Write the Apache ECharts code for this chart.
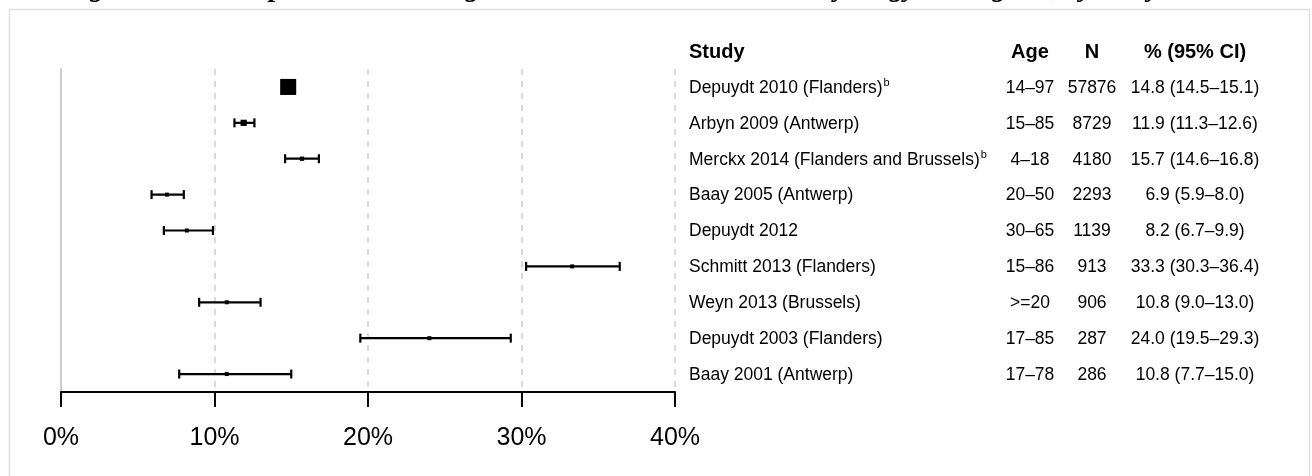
<!DOCTYPE html>
<html>
<head>
<meta charset="utf-8">
<script src="https://cdn.jsdelivr.net/npm/echarts@6/dist/echarts.min.js"></script>
<style>
html,body{margin:0;padding:0;background:#fff;}
#chart{width:1312px;height:476px;}
</style>
</head>
<body>
<div id="chart"></div>
<script>
// ---- data ----
const titleText = 'Figure 2. hrHPV prevalence among women with normal cervical cytology in Belgium, by study';
const studies = ['Depuydt 2010 (Flanders)', 'Arbyn 2009 (Antwerp)', 'Merckx 2014 (Flanders and Brussels)', 'Baay 2005 (Antwerp)', 'Depuydt 2012', 'Schmitt 2013 (Flanders)', 'Weyn 2013 (Brussels)', 'Depuydt 2003 (Flanders)', 'Baay 2001 (Antwerp)'];
const superscripts = ['b', '', 'b', '', '', '', '', '', ''];
const ages = ['14\u201397', '15\u201385', '4\u201318', '20\u201350', '30\u201365', '15\u201386', '>=20', '17\u201385', '17\u201378'];
const ns = [57876, 8729, 4180, 2293, 1139, 913, 906, 287, 286];
const estimates = [14.8, 11.9, 15.7, 6.9, 8.2, 33.3, 10.8, 24.0, 10.8];
const lowers = [14.5, 11.3, 14.6, 5.9, 6.7, 30.3, 9.0, 19.5, 7.7];
const uppers = [15.1, 12.6, 16.8, 8.0, 9.9, 36.4, 13.0, 29.3, 15.0];
const headers = ['Study', 'Age', 'N', '% (95% CI)'];
const xTicks = [0, 10, 20, 30, 40];

// ---- chart ----
const chart = echarts.init(document.getElementById('chart'), null, {renderer: 'canvas'});
const fmt = v => v.toFixed(1);

const barData = studies.map((s, i) => [i, lowers[i], uppers[i], estimates[i], ns[i]]);
const tableData = studies.map((s, i) => [i, 0]);

const COL_STUDY = 689, COL_AGE = 1030, COL_N = 1092, COL_CI = 1195;
const TXT = '#000';
const FONT = 'Liberation Sans, Arial, Helvetica, sans-serif';
const ROWFS = 17.5;

const option = {
  animation: false,
  backgroundColor: '#fff',
  grid: {left: 61, right: 637, top: 69, bottom: 84, containLabel: false},
  xAxis: {
    type: 'value', min: xTicks[0], max: xTicks[xTicks.length - 1], interval: 10,
    axisLine: {show: true, lineStyle: {color: '#000', width: 2}},
    axisTick: {show: true, length: 15, lineStyle: {color: '#000', width: 2}},
    axisLabel: {formatter: '{value}%', fontSize: 25, color: '#000', margin: 34, fontFamily: FONT},
    splitLine: {show: true, lineStyle: {color: '#d9d9d9', width: 2, type: [6, 6]}}
  },
  yAxis: {
    type: 'category', data: studies, inverse: true,
    axisLine: {show: true, lineStyle: {color: '#cccccc', width: 2}},
    axisTick: {show: false}, axisLabel: {show: false}, splitLine: {show: false}
  },
  graphic: [
    {type: 'rect', shape: {x: 9.5, y: 9.5, width: 1300, height: 480}, style: {fill: 'none', stroke: '#e0e0e0', lineWidth: 1.5}, z: -10},
    {type: 'text', x: 64, y: 3, style: {text: titleText, font: 'italic bold 28px "Liberation Serif", serif', fill: '#000', verticalAlign: 'bottom'}}
  ],
  series: [
    {
      type: 'custom', name: 'ci', data: barData, clip: false,
      encode: {x: [1, 2, 3], y: 0},
      renderItem: function (params, api) {
        const i = api.value(0);
        const pl = api.coord([api.value(1), i]);
        const ph = api.coord([api.value(2), i]);
        const pe = api.coord([api.value(3), i]);
        const n = api.value(4);
        const sz = Math.max(4, Math.sqrt(n) / 15);
        const ls = {stroke: '#000', lineWidth: 2.2};
        return {
          type: 'group',
          children: [
            {type: 'line', shape: {x1: pl[0], y1: pl[1], x2: ph[0], y2: ph[1]}, style: ls},
            {type: 'line', shape: {x1: pl[0], y1: pl[1] - 4.5, x2: pl[0], y2: pl[1] + 4.5}, style: ls},
            {type: 'line', shape: {x1: ph[0], y1: ph[1] - 4.5, x2: ph[0], y2: ph[1] + 4.5}, style: ls},
            {type: 'rect', shape: {x: pe[0] - sz / 2, y: pe[1] - sz / 2, width: sz, height: sz}, style: {fill: '#000'}}
          ]
        };
      },
      z: 5
    },
    {
      type: 'custom', name: 'table', data: tableData, clip: false, silent: true,
      encode: {x: 1, y: 0},
      renderItem: function (params, api) {
        const i = api.value(0);
        const y = api.coord([0, i])[1];
        const band = api.size([0, 1])[1];
        const children = [];
        const rich = {
          n: {fontSize: ROWFS, fontFamily: FONT, color: TXT},
          s: {fontSize: 11, fontFamily: FONT, color: TXT, verticalAlign: 'top', padding: [0, 0, 9, 1]}
        };
        const label = superscripts[i] ? '{n|' + studies[i] + '}{s|' + superscripts[i] + '}' : '{n|' + studies[i] + '}';
        children.push({type: 'text', x: COL_STUDY, y: y + 1, style: {text: label, rich: rich, align: 'left', verticalAlign: 'middle'}});
        const plain = (t, x) => ({type: 'text', x: x, y: y + 1, style: {text: t, font: ROWFS + 'px ' + FONT, fill: TXT, align: 'center', verticalAlign: 'middle'}});
        children.push(plain(ages[i], COL_AGE));
        children.push(plain(String(ns[i]), COL_N));
        children.push(plain(fmt(estimates[i]) + ' (' + fmt(lowers[i]) + '\u2013' + fmt(uppers[i]) + ')', COL_CI));
        if (i === 0) {
          const hy = y - band + 1;
          const hdr = (t, x, al) => ({type: 'text', x: x, y: hy, style: {text: t, font: 'bold 20px ' + FONT, fill: TXT, align: al, verticalAlign: 'middle'}});
          children.push(hdr(headers[0], COL_STUDY, 'left'));
          children.push(hdr(headers[1], COL_AGE, 'center'));
          children.push(hdr(headers[2], COL_N, 'center'));
          children.push(hdr(headers[3], COL_CI, 'center'));
        }
        return {type: 'group', children: children};
      }
    }
  ]
};
chart.setOption(option);
</script>
</body>
</html>
